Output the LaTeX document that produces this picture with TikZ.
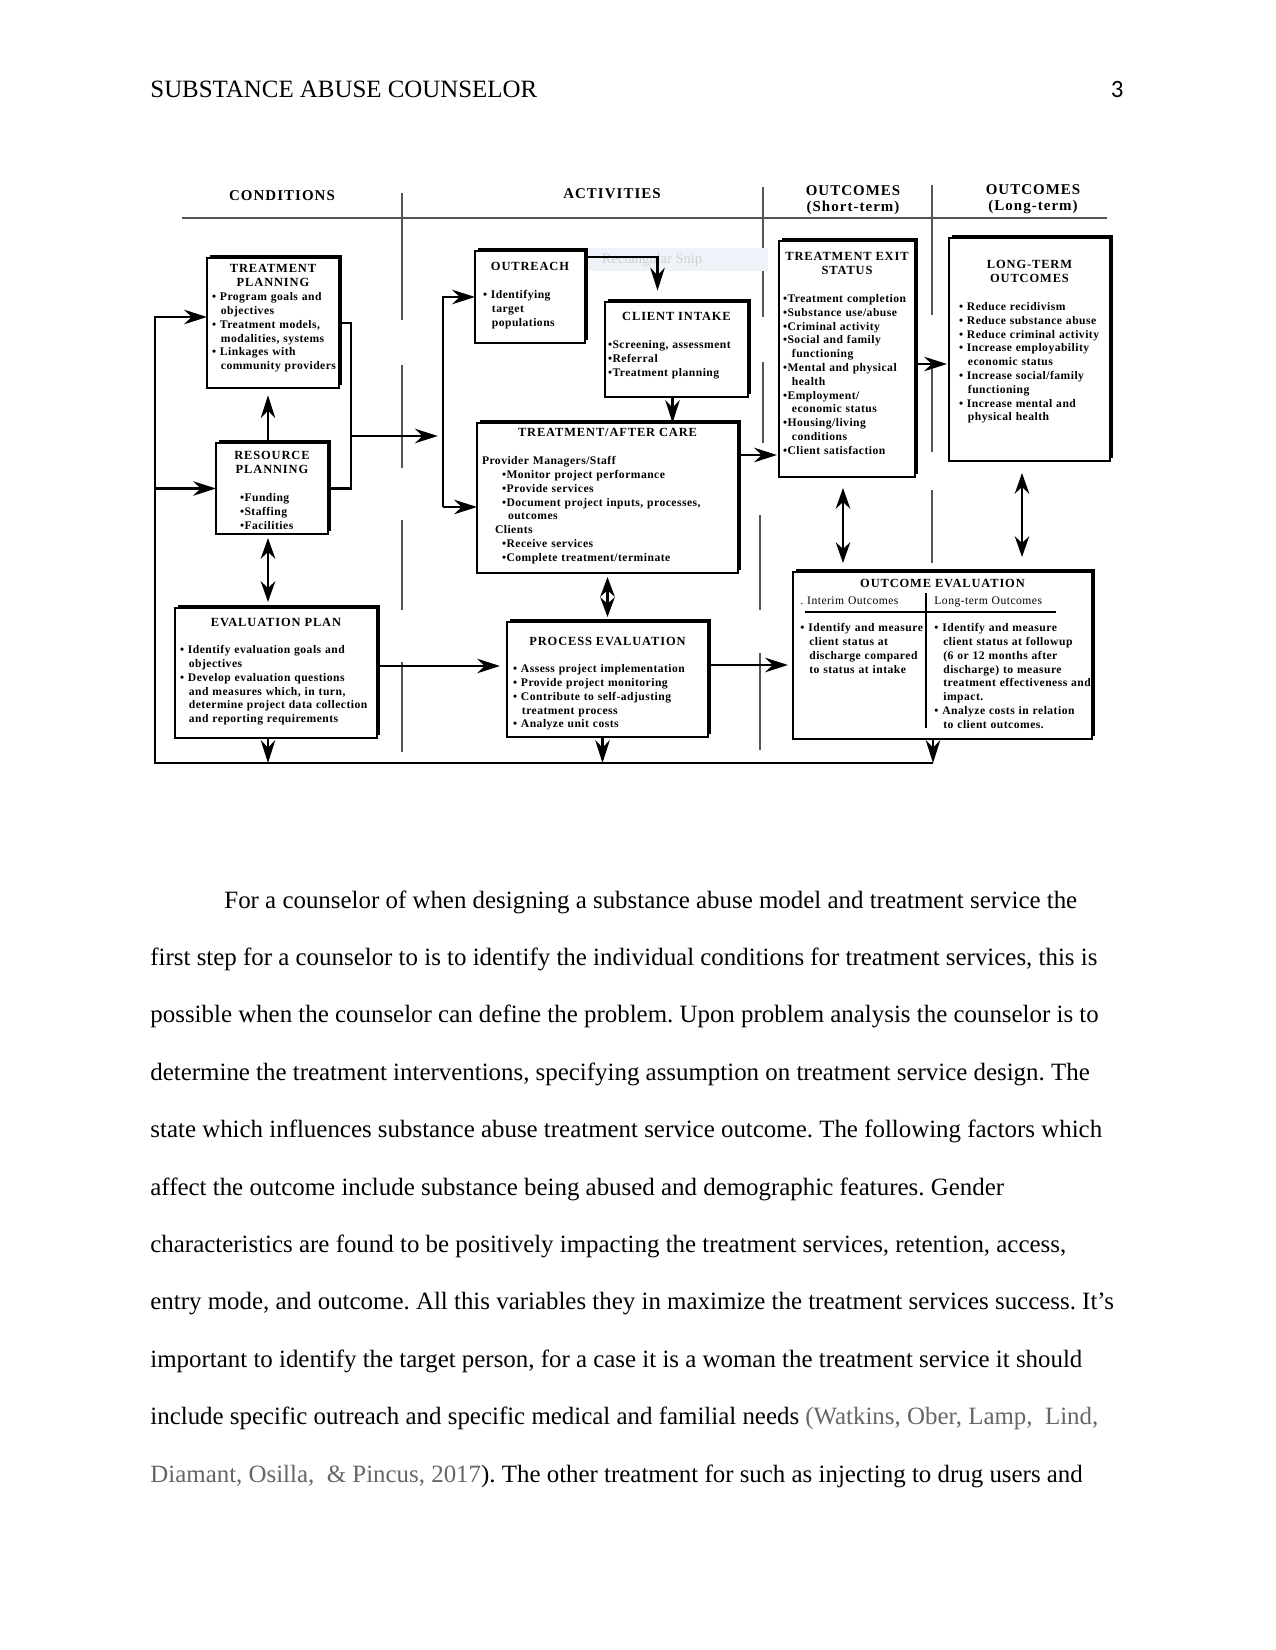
\documentclass[tikz,border=0pt]{standalone}
\usepackage{fontspec}
\setmainfont{Liberation Serif}
\newfontfamily\dgfont[LetterSpace=4]{Liberation Serif}
\newfontfamily\hdfont[LetterSpace=7]{Liberation Serif}
\newfontfamily\pgnum{Carlito}
\usetikzlibrary{arrows.meta, positioning, shadows, calc}
\usepackage{xcolor}
\definecolor{citegray}{HTML}{666666}
\definecolor{sepgray}{HTML}{555555}
\definecolor{snipblue}{HTML}{EEF3FA}
\frenchspacing
\hyphenpenalty=10000
\exhyphenpenalty=10000
\newlength{\px}\setlength{\px}{0.4818pt}
\newcommand{\dgtext}{\dgfont\bfseries\fontsize{5.6}{6.65}\selectfont}
\newcommand{\hdline}[1]{\leavevmode\hbox to\hsize{\hss\hdfont\bfseries\fontsize{6}{6.65}\selectfont #1\hss}}
\newcommand{\hd}[1]{\hdline{#1}\\}
\newcommand{\hdgap}[1]{\hdline{#1}\\[6.65pt]}
\newcommand{\cont}{\hspace*{4.3pt}}
\newcommand{\ind}[1]{\hspace*{#1\px}}

\begin{document}
\begin{tikzpicture}[x=0.4818pt, y=-0.4818pt,
        box/.style={draw, line width=0.7pt, fill=white, anchor=north west,
              inner ysep=0pt, outer sep=0pt, align=left, font=\dgtext,
              drop shadow={shadow xshift=3\px, shadow yshift=3\px, opacity=1, fill=black}},
        coltext/.style={anchor=base west, inner sep=0pt, align=left, font=\dgtext},
        colhd/.style={anchor=base, inner sep=0pt, font=\hdfont\bfseries\fontsize{7.2}{8}\selectfont},
        ptext/.style={anchor=base west, inner sep=0pt, font=\fontsize{12}{14}\selectfont},
        line/.style={line width=1pt},
        arr/.style={line width=1pt, -{Stealth[length=11pt, width=7pt]}},
        dbl/.style={line width=1pt, {Stealth[length=10pt, width=7pt]}-{Stealth[length=10pt, width=7pt]}},
        sep/.style={line width=0.5pt, sepgray}]
        \useasboundingbox (0,0) rectangle (1275,1650);
        \fill[white] (0,0) rectangle (1275,1650);

        % page header
        \node[ptext] (hdr) at (150,98) {SUBSTANCE ABUSE COUNSELOR};
        \node[anchor=base east, inner sep=0pt, font=\pgnum\fontsize{12}{14}\selectfont] (pg) at (1124,98) {3};

        % column titles and rules
        \node[colhd] (hcond) at (282,201) {CONDITIONS};
        \node[colhd] (hact) at (612,199) {ACTIVITIES};
        \node[colhd] (hshort) at (853,196) {OUTCOMES};
        \node[colhd] (hshort2) at (853,212) {(Short-term)};
        \node[colhd] (hlong) at (1033,195) {OUTCOMES};
        \node[colhd] (hlong2) at (1033,211) {(Long-term)};
        \draw[sep] (182,218) -- (1107,218);
        \foreach \x/\a/\b in {402/193/320, 402/365/468, 402/520/610, 402/662/752,
                763/187/317, 763/362/443, 760/515/610, 760/653/750,
                932/185/315, 932/360/452, 932/490/563}
          \draw[sep] (\x,\a) -- (\x,\b);

        % screen clipping left over in the scan
        \fill[snipblue] (561,248) rectangle (768,271);
        \node[text=black!18, font=\fontsize{7}{8}\selectfont] (snip) at (652,260) {Rectangular Snip};

        % boxes
        \node[box, text width=122\px, inner xsep=5\px, text height=15\px, text depth=115\px] (tp) at (207,258) {%
          \hd{TREATMENT}\hd{PLANNING}
          \textbullet\ Program goals and\\
          \cont objectives\\
          \textbullet\ Treatment models,\\
          \cont modalities, systems\\
          \textbullet\ Linkages with\\
          \cont community~providers};
        \node[box, text width=104\px, inner xsep=4\px, text height=17\px, text depth=74\px] (rp) at (216,443) {%
          \hd{RESOURCE}\hdgap{PLANNING}
          \ind{20}\textbullet Funding\\
          \ind{20}\textbullet Staffing\\
          \ind{20}\textbullet Facilities};
        \node[box, text width=192\px, inner xsep=5\px, text height=18\px, text depth=112\px] (ep) at (175,608) {%
          \hdgap{EVALUATION PLAN}
          \textbullet\ Identify evaluation goals~and\\
          \cont objectives\\
          \textbullet\ Develop evaluation questions\\
          \cont and measures which, in turn,\\
          \cont determine~project data~collection\\
          \cont and reporting requirements};
        \node[box, text width=94\px, inner xsep=8\px, text height=20\px, text depth=72\px] (out) at (475,251) {%
          \hdgap{OUTREACH}
          \textbullet\ Identifying\\
          \cont target\\
          \cont populations};
        \node[box, text width=137\px, inner xsep=3\px, text height=19\px, text depth=76\px] (ci) at (605,302) {%
          \hdgap{CLIENT INTAKE}
          \textbullet Screening,~assessment\\
          \textbullet Referral\\
          \textbullet Treatment planning};
        \node[box, text width=251\px, inner xsep=5\px, text height=14\px, text depth=136\px] (tac) at (477,423) {%
          \hdgap{TREATMENT/AFTER CARE}
          Provider Managers/Staff\\
          \ind{20}\textbullet Monitor project performance\\
          \ind{20}\textbullet Provide services\\
          \ind{20}\textbullet Document project inputs, processes,\\
          \ind{26}outcomes\\
          \ind{13}Clients\\
          \ind{20}\textbullet Receive services\\
          \ind{20}\textbullet Complete treatment/terminate};
        \node[box, text width=189\px, inner xsep=6\px, text height=23\px, text depth=92\px] (pe) at (507,622) {%
          \hdgap{PROCESS EVALUATION}
          \textbullet\ Assess project implementation\\
          \textbullet\ Provide project monitoring\\
          \textbullet\ Contribute to self-adjusting\\
          \cont treatment process\\
          \textbullet\ Analyze unit costs};
        \node[box, text width=128\px, inner xsep=4\px, text height=20\px, text depth=216\px] (tes) at (779,241) {%
          \hd{TREATMENT EXIT}\hdgap{STATUS}
          \textbullet Treatment~completion\\
          \textbullet Substance use/abuse\\
          \textbullet Criminal activity\\
          \textbullet Social and family\\
          \cont functioning\\
          \textbullet Mental and physical\\
          \cont health\\
          \textbullet Employment/\\
          \cont economic status\\
          \textbullet Housing/living\\
          \cont conditions\\
          \textbullet Client satisfaction};
        \node[box, text width=141\px, inner xsep=10\px, text height=31\px, text depth=192\px] (lto) at (949,238) {%
          \hd{LONG-TERM}\hdgap{OUTCOMES}
          \textbullet\ Reduce recidivism\\
          \textbullet\ Reduce substance~abuse\\
          \textbullet\ Reduce criminal~activity\\
          \textbullet\ Increase employability\\
          \cont economic status\\
          \textbullet\ Increase social/family\\
          \cont functioning\\
          \textbullet\ Increase mental and\\
          \cont physical health};
        \node[box, text width=289\px, inner xsep=5\px, text height=15\px, text depth=152\px] (oe) at (793,572) {%
          \hdline{OUTCOME EVALUATION}};
        \node[coltext, text width=122\px] (oeint) at (800,604) {%
          {\mdseries . Interim Outcomes}\\[6.65pt]
          \textbullet\ Identify and~measure\\
          \cont client status at\\
          \cont discharge compared\\
          \cont to status at intake};
        \node[coltext, text width=160\px] (oelong) at (934,604) {%
          {\mdseries Long-term Outcomes}\\[6.65pt]
          \textbullet\ Identify and measure\\
          \cont client status at followup\\
          \cont (6 or 12 months after\\
          \cont discharge) to measure\\
          \cont treatment~effectiveness~and\\
          \cont impact.\\
          \textbullet\ Analyze costs in relation\\
          \cont to client outcomes.};
        \draw[line width=0.6pt] (926,593) -- (926,728);
        \draw[line width=0.6pt] (805,612) -- (1056,612);

        % connectors
        \coordinate (lb) at (155,763);
        \coordinate (lr) at (933,763);
        \coordinate (jn) at (351,436);
        \coordinate (bt) at (443,300);
        \coordinate (bb) at (443,507);
        \draw[arr] (lr) -- (lb) |- ($(tp.west)+(0,-6)$);
        \draw[arr] (lb |- rp.west) -- (rp.west);
        \draw[line] (tp.east) -| (jn |- rp.east) -- (rp.east);
        \draw[arr, shorten >=2.5pt] (jn) -- (jn -| bb);
        \draw[arr] (bb) -- (bt |- out.west) -- (out.west);
        \draw[arr] (bb) -- (bb -| tac.west);
        \draw[arr, shorten >=3.5pt] ($(rp.north)+(-4,0)$) -- ($(rp.north |- tp.south)+(-4,0)$);
        \draw[dbl] ($(rp.south)+(-4,4)$) -- ($(rp.south |- ep.north)+(-4,-6)$);
        \draw[arr] ($(ep.south)+(-8,0)$) -- ($(ep.south |- lb)+(-8,0)$);
        \draw[arr] ($(pe.south)+(-5,0)$) -- ($(pe.south |- lb)+(-5,0)$);
        \draw[arr] ($(oe.south)+(-9.5,0)$) -- (lr);
        \draw[arr, shorten >=5.5pt] ($(out.north east)+(0,6)$) -| ($(ci.north)+(-19,0)$);
        \draw[arr] ($(ci.south)+(-4,0)$) -- ($(ci.south |- tac.north)+(-4,0)$);
        \draw[line width=1pt, {Stealth[length=9.5pt, width=7pt]}-{Stealth[length=9.5pt, width=7pt]}]
          ($(tac.south)+(0,4)$) -- ($(tac.south |- pe.north)+(0,-5)$);
        \draw[arr] ($(tac.north east)+(0,32)$) -- ($(tac.north east -| tes.west)+(-2,32)$);
        \draw[arr] ($(tes.east)+(2,5)$) -- ($(tes.east -| lto.west)+(-2,5)$);
        \draw[dbl] ($(tes.south)+(-4,11)$) -- ($(tes.south |- oe.north)+(-4,-9)$);
        \draw[dbl] ($(lto.south)+(-7.5,12)$) -- ($(lto.south |- oe.north)+(-7.5,-15)$);
        \draw[arr] ($(ep.east)+(0,-7)$) -- ($(ep.east -| pe.west)+(-7,-7)$);
        \draw[arr] ($(pe.east)+(2,-14.5)$) -- ($(pe.east -| oe.west)+(-5,-14.5)$);

        % body text
        \foreach \t [count=\i] in {%
          {\hspace*{74\px}For a counselor of when designing a substance abuse model and treatment service the},
          {first step for a counselor to is to identify the individual conditions for treatment services, this is},
          {possible when the counselor can define the problem. Upon problem analysis the counselor is to},
          {determine the treatment interventions, specifying assumption on treatment service design. The},
          {state which influences substance abuse treatment service outcome. The following factors which},
          {affect the outcome include substance being abused and demographic features. Gender},
          {characteristics are found to be positively impacting the treatment services, retention, access,},
          {entry mode, and outcome. All this variables they in maximize the treatment services success. It's},
          {important to identify the target person, for a case it is a woman the treatment service it should},
          {include specific outreach and specific medical and familial needs \textcolor{citegray}{(Watkins, Ober, Lamp,\ \ Lind,}},
          {\textcolor{citegray}{Diamant, Osilla,\ \ \& Pincus, 2017}). The other treatment for such as injecting to drug users and}}
          \node[ptext] (p\i) at (150,{908+57.4*(\i-1)}) {\t};
      \end{tikzpicture}
\end{document}
